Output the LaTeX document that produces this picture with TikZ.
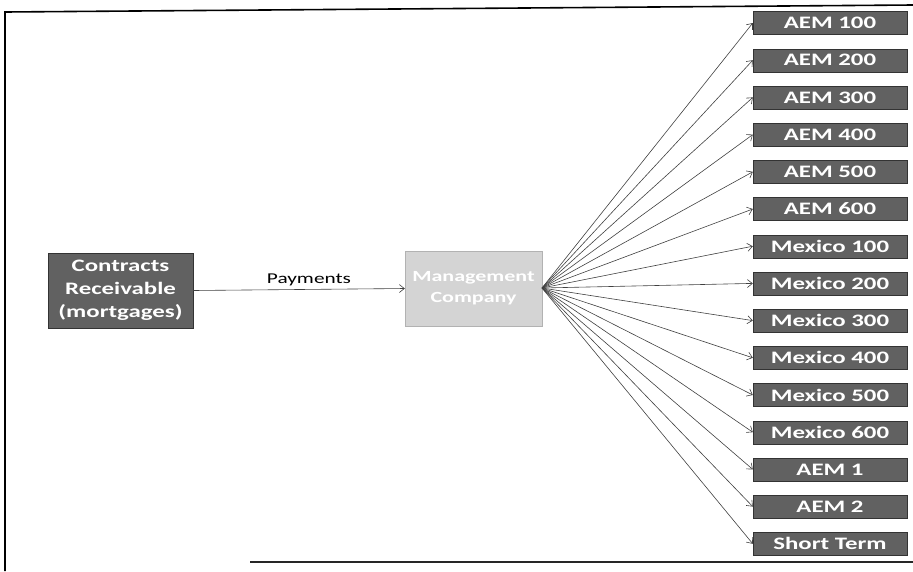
\documentclass[tikz,border=0pt]{standalone}
\usepackage{fontspec}
\newfontfamily\wfont[FakeStretch=1.42]{Carlito}
\usetikzlibrary{arrows.meta}
\tikzset{
  darkbox/.style={draw=black!80, fill=black!62, text=white, font=\wfont\bfseries\fontsize{17.5}{23}\selectfont, inner sep=0pt, align=center},
  rbox/.style={darkbox, minimum width=154pt, minimum height=23pt},
  midbox/.style={draw=black!30, fill=black!17, text=white, font=\wfont\bfseries\fontsize{15.5}{21}\selectfont, inner sep=0pt, align=center, minimum width=137pt, minimum height=75pt},
  conn/.style={draw=black!75, line width=0.6pt, -{Straight Barb[length=5pt,width=8pt]}},
  frame/.style={line width=1.6pt, black}
}
\begin{document}
\begin{tikzpicture}[x=1pt,y=-1pt]
\useasboundingbox (0,0) rectangle (913,571);
% frame
\draw[frame] (5,571) -- (5,12) -- (913,5);
\draw[frame, black!85] (250,562) -- (913,562);
% nodes
\node[darkbox, minimum width=145pt, minimum height=75pt] (cr) at (120.5,290.5) {Contracts\\Receivable\\(mortgages)};
\node[midbox] (mc) at (473.5,288.5) {Management\\Company};
\coordinate (hub) at (542,288);
\foreach \t [count=\i from 0] in {AEM 100,AEM 200,AEM 300,AEM 400,AEM 500,AEM 600,Mexico 100,Mexico 200,Mexico 300,Mexico 400,Mexico 500,Mexico 600,AEM 1,AEM 2,Short Term}{
  \node[rbox] (r\i) at (830,{23+37.2*\i}) {\t};
  \draw[conn] (hub) -- (r\i.west);
}
\draw[conn] (cr.east) -- node[above=0pt, xshift=10pt, font=\wfont\fontsize{15}{17}\selectfont, text=black] (pay) {Payments} (mc.west);
\end{tikzpicture}
\end{document}
